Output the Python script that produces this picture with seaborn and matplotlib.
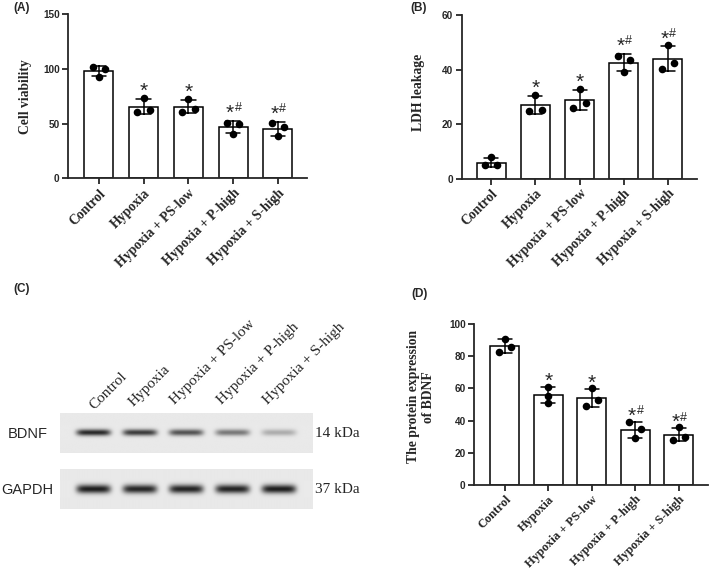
import numpy as np
import pandas as pd
import matplotlib
matplotlib.use("Agg")
import matplotlib.pyplot as plt
import matplotlib.transforms as mtransforms
import seaborn as sns

# ---------------- data ----------------
groups = ["Control", "Hypoxia", "Hypoxia + PS-low", "Hypoxia + P-high", "Hypoxia + S-high"]
cell_viability = [[101.5, 93.0, 99.7], [61.0, 73.5, 62.5], [60.4, 72.3, 63.7],
                  [51.0, 40.8, 49.5], [50.8, 38.4, 46.5]]
ldh_leakage = [[4.9, 7.8, 5.1], [24.9, 30.7, 25.1], [26.0, 33.0, 27.7],
               [45.1, 39.0, 43.6], [40.3, 49.0, 42.5]]
bdnf_expression = [[82.6, 90.9, 85.5], [50.8, 61.0, 55.5], [49.3, 60.1, 52.6],
                   [38.9, 29.0, 35.0], [28.2, 35.8, 30.0]]
significance = ["", "*", "*", "*#", "*#"]
bdnf_band = [0.95, 0.86, 0.74, 0.56, 0.30]
gapdh_band = [1.00, 0.96, 0.97, 0.97, 1.00]
band_names = ["BDNF", "GAPDH"]
band_sizes = ["14 kDa", "37 kDa"]

# ---------------- style ----------------
W, H = 709, 570
SERIF = "Liberation Serif"
SANS = "Liberation Sans"
sns.set_style("ticks")
plt.rcParams["font.family"] = [SANS, "DejaVu Sans"]

fig = plt.figure(figsize=(W / 100, H / 100), dpi=100)

jitter = {"l": -0.14, "c": 0.0, "r": 0.14}
std_layout = [["l", "c", "r"]] * 5
d_layout = [["l", "c", "r"], ["c", "c", "c"], ["l", "c", "r"], ["l", "c", "r"], ["l", "c", "r"]]


def px_box(x0, y0, x1, y1):
    return [x0 / W, 1 - y1 / H, (x1 - x0) / W, (y1 - y0) / H]


def bar_panel(rect, values, layout, ylim, yticks, ylabel, xlim, width, label_xy,
              star_gap, xfont):
    ax = fig.add_axes(rect)
    rows = []
    for gi, (g, vals) in enumerate(zip(groups, values)):
        for v, p in zip(vals, layout[gi]):
            rows.append({"group": g, "value": v, "x": gi + jitter[p]})
    df = pd.DataFrame(rows)
    sns.barplot(data=df, x="group", y="value", order=groups, errorbar="sd",
                capsize=0.32, width=width, color="white", saturation=1,
                edgecolor="black", linewidth=1.1,
                err_kws={"color": "black", "linewidth": 1.1}, ax=ax)
    sns.scatterplot(data=df, x="x", y="value", color="black", s=30,
                    linewidth=0, zorder=5, legend=False, ax=ax)
    ax.set_xlim(*xlim)
    ax.set_ylim(*ylim)
    ax.set_yticks(yticks)
    ax.set_xticks(range(len(groups)))
    ax.set_xticklabels(groups, rotation=45, ha="right", va="top",
                       rotation_mode="anchor", fontfamily=SERIF,
                       fontweight="bold", fontsize=xfont)
    for t in ax.get_yticklabels():
        t.set_fontweight("bold")
        t.set_fontsize(7.2)
    ax.tick_params(axis="both", length=4, width=1.1, pad=2, color="black")
    for s in ("left", "bottom"):
        ax.spines[s].set_linewidth(1.3)
    sns.despine(ax=ax)
    ax.set_xlabel("")
    ax.set_ylabel(ylabel, fontfamily=SERIF, fontweight="bold", fontsize=9.8)
    ax.yaxis.set_label_coords(*label_xy)
    # significance marks
    for gi, vals in enumerate(values):
        mark = significance[gi]
        if not mark:
            continue
        top = np.mean(vals) + np.std(vals, ddof=1)
        if mark == "*":
            ax.annotate("*", xy=(gi, top), xytext=(0, star_gap), textcoords="offset points",
                        ha="center", va="baseline", fontsize=15)
        else:
            ax.annotate("*", xy=(gi, top), xytext=(-2.4, star_gap), textcoords="offset points",
                        ha="center", va="baseline", fontsize=15)
            ax.annotate("#", xy=(gi, top), xytext=(1.0, star_gap + 5.5), textcoords="offset points",
                        ha="left", va="baseline", fontsize=9)
    return ax


bar_panel(px_box(68, 14.3, 307, 178.3), cell_viability, std_layout, (0, 150), [0, 50, 100, 150],
          "Cell viability", (-0.69, 4.65), 0.65, (-0.151, 0.5), 1.5, 9.8)
bar_panel(px_box(461.7, 15, 697, 178.7), ldh_leakage, std_layout, (0, 60), [0, 20, 40, 60],
          "LDH leakage", (-0.67, 4.66), 0.66, (-0.156, 0.53), 1.5, 9.8)
bar_panel(px_box(474, 324, 708, 485), bdnf_expression, d_layout, (0, 100), [0, 20, 40, 60, 80, 100],
          "The protein expression\nof BDNF", (-0.71, 4.67), 0.67, (-0.165, 0.548), 0.0, 9.0)

# ---------------- western blot (C) ----------------
def blot_strip(rect, intens, thick):
    ax = fig.add_axes(rect)
    xs = np.linspace(-0.72, 4.73, 500)
    ys = np.linspace(0, 1, 80)
    X, Y = np.meshgrid(xs, ys)
    img = np.full(X.shape, 0.915) - 0.02 * (Y - 0.5) ** 2
    for li, val in enumerate(intens):
        prof = np.exp(-((X - li) / 0.37) ** 6) * np.exp(-((Y - 0.5) / thick) ** 2)
        img = img - 0.80 * val * prof
    ax.imshow(img, cmap="gray", vmin=0, vmax=1, aspect="auto",
              extent=(-0.72, 4.73, 1, 0), interpolation="bilinear")
    ax.set_xlim(-0.72, 4.73)
    ax.set_ylim(1, 0)
    ax.axis("off")
    return ax


ax_b = blot_strip(px_box(60, 412.7, 313, 453), bdnf_band, 0.08)
ax_g = blot_strip(px_box(60, 469, 313, 509), gapdh_band, 0.11)

trans = mtransforms.blended_transform_factory(ax_b.transData, ax_b.transAxes)
lane_label_shift = [0.02, -0.13, -0.24, -0.24, -0.24]
lane_label_lift = [3, 6, 8, 8, 8]
for li, g in enumerate(groups):
    offs = mtransforms.offset_copy(trans, fig=fig, x=0, y=lane_label_lift[li], units="dots")
    ax_b.text(li + lane_label_shift[li], 1.0, g, transform=offs, rotation=45, ha="left",
              va="baseline", rotation_mode="anchor", fontfamily=SERIF, fontsize=11)

for name, size, yc in zip(band_names, band_sizes, [433.8, 489.5]):
    fig.text(27.5 / W, 1 - yc / H, name, ha="center", va="center", fontfamily=SANS, fontsize=10.5)
    fig.text(315 / W, 1 - yc / H, size, ha="left", va="center", fontfamily=SERIF, fontsize=11)

# ---------------- panel letters ----------------
for lab, x, y in [("(A)", 13, 8), ("(B)", 410, 8), ("(C)", 13, 289), ("(D)", 411.5, 294)]:
    fig.text(x / W, 1 - y / H, lab, ha="left", va="center", fontfamily=SANS,
             fontweight="bold", fontsize=8.5)

fig.savefig("out.png", dpi=100)
